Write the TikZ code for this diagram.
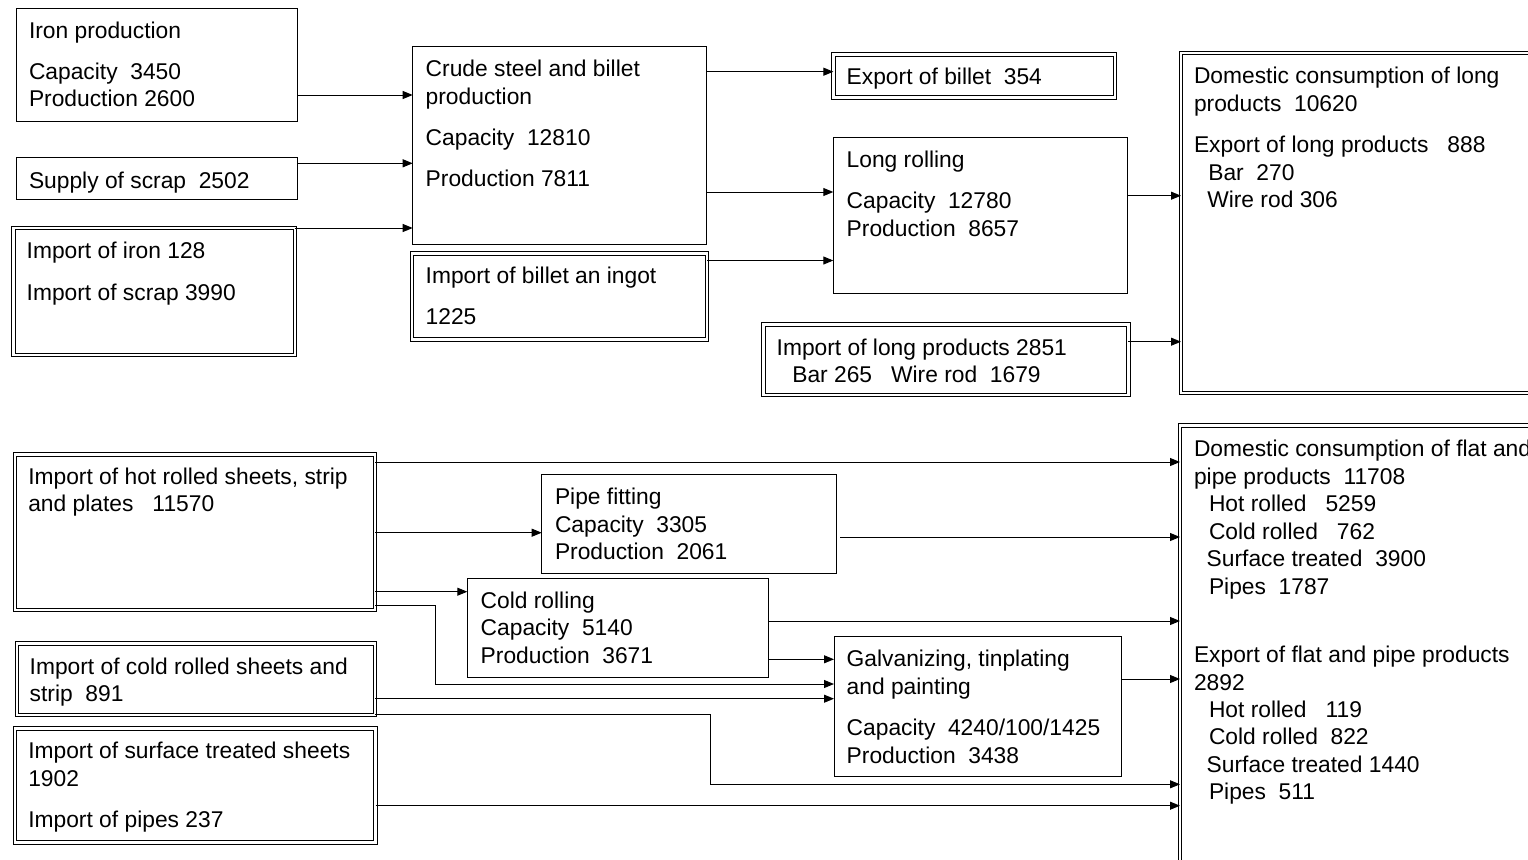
\documentclass[tikz,border=0pt]{standalone}
\usepackage{fontspec}
\setmainfont{Liberation Sans}
\usetikzlibrary{arrows.meta}
\newcommand\mkbox[6]{\node[#1, minimum width={#5-#3}, minimum height={#6-#4}] (#2) at (#3,#4) {};}
\newcommand\tline[4]{\node[txt] (#1) at (#2,#3) {#4};}
\begin{document}
\begin{tikzpicture}[x=1pt,y=-1pt,
  box/.style={draw, line width=1pt, inner sep=0pt, outer sep=0pt, anchor=north west},
  dbox/.style={box, double, double distance=2.4pt},
  txt/.style={anchor=base west, inner sep=0pt, outer sep=0pt, font=\fontsize{22.8}{27}\selectfont},
  arr/.style={line width=1pt, -{Triangle[length=10pt,width=8pt]}}]
\useasboundingbox (0,0) rectangle (1528,859);
\clip (0,0) rectangle (1528,859);
% boxes
\mkbox{box}{iron}{16}{8.3}{297.7}{121.7}
\mkbox{box}{scrap}{16}{157.3}{297.7}{199.3}
\mkbox{dbox}{impiron}{13.3}{228}{294.8}{354.7}
\mkbox{box}{crude}{412.7}{46.7}{706}{244}
\mkbox{dbox}{impbillet}{411.7}{253.4}{707}{339.3}
\mkbox{dbox}{export}{833.4}{54.4}{1115}{97.3}
\mkbox{box}{longroll}{833.3}{137.7}{1127.7}{293.3}
\mkbox{dbox}{implong}{763.4}{324.4}{1128.3}{395}
\mkbox{dbox}{domlong}{1181}{53.3}{1545}{393}
\mkbox{dbox}{imphot}{15}{454.4}{375}{610}
\mkbox{dbox}{impcold}{16.7}{643.4}{375}{715}
\mkbox{dbox}{impsurf}{15}{728.4}{375.6}{842.6}
\mkbox{box}{pipe}{541.7}{474.3}{836}{573.3}
\mkbox{box}{coldroll}{467.3}{578.3}{768.3}{677.3}
\mkbox{box}{galv}{834}{636.7}{1121.7}{776}
\mkbox{dbox}{domflat}{1180}{425.5}{1545}{880}
% texts
\tline{t-iron-1}{29}{38.5}{Iron production}
\tline{t-iron-2}{29}{79.5}{Capacity~ 3450}
\tline{t-iron-3}{29}{106.5}{Production 2600}
\tline{t-scrap}{29}{188.5}{Supply of scrap~ 2502}
\tline{t-impiron-1}{26.7}{258.5}{Import of iron 128}
\tline{t-impiron-2}{26.7}{300}{Import of scrap 3990}
\tline{t-crude-1}{425.7}{76.5}{Crude steel and billet}
\tline{t-crude-2}{425.7}{104.5}{production}
\tline{t-crude-3}{425.7}{145.5}{Capacity~ 12810}
\tline{t-crude-4}{425.7}{186.5}{Production 7811}
\tline{t-impbillet-1}{425.7}{283}{Import of billet an ingot}
\tline{t-impbillet-2}{425.7}{324}{1225}
\tline{t-export}{846.7}{84.3}{Export of billet~ 354}
\tline{t-long-1}{846.7}{167.7}{Long rolling}
\tline{t-long-2}{846.7}{208.5}{Capacity~ 12780}
\tline{t-long-3}{846.7}{236}{Production~ 8657}
\tline{t-implong-1}{776.7}{355.3}{Import of long products 2851}
\tline{t-implong-2}{792.3}{382.7}{Bar 265~~ Wire rod~ 1679}
\tline{t-domlong-1}{1194}{84}{Domestic consumption of long}
\tline{t-domlong-2}{1194}{111}{products~ 10620}
\tline{t-domlong-3}{1194}{152.5}{Export of long products~~ 888}
\tline{t-domlong-4}{1208.3}{180}{Bar~ 270}
\tline{t-domlong-5}{1207.3}{207.5}{Wire rod 306}
\tline{t-imphot-1}{28.3}{484.5}{Import of hot rolled sheets, strip}
\tline{t-imphot-2}{28.3}{511.5}{and plates~~ 11570}
\tline{t-impcold-1}{29.7}{674.5}{Import of cold rolled sheets and}
\tline{t-impcold-2}{29.7}{701.5}{strip~ 891}
\tline{t-impsurf-1}{28.3}{758.5}{Import of surface treated sheets}
\tline{t-impsurf-2}{28.3}{786.5}{1902}
\tline{t-impsurf-3}{28.3}{827.5}{Import of pipes 237}
\tline{t-pipe-1}{555}{504.5}{Pipe fitting}
\tline{t-pipe-2}{555}{532.5}{Capacity~ 3305}
\tline{t-pipe-3}{555}{559.5}{Production~ 2061}
\tline{t-cold-1}{480.7}{608.5}{Cold rolling}
\tline{t-cold-2}{480.7}{635.5}{Capacity~ 5140}
\tline{t-cold-3}{480.7}{663.5}{Production~ 3671}
\tline{t-galv-1}{846.7}{666.5}{Galvanizing, tinplating}
\tline{t-galv-2}{846.7}{694.5}{and painting}
\tline{t-galv-3}{846.7}{735.5}{Capacity~ 4240/100/1425}
\tline{t-galv-4}{846.7}{763.5}{Production~ 3438}
\tline{t-domflat-1}{1194}{456.5}{Domestic consumption of flat and}
\tline{t-domflat-2}{1194}{484.5}{pipe products~ 11708}
\tline{t-domflat-3}{1209}{511.5}{Hot rolled~~ 5259}
\tline{t-domflat-4}{1209}{539.5}{Cold rolled~~ 762}
\tline{t-domflat-5}{1206.7}{566.5}{Surface treated~ 3900}
\tline{t-domflat-6}{1209}{594.5}{Pipes~ 1787}
\tline{t-domflat-7}{1194}{662.5}{Export of flat and pipe products}
\tline{t-domflat-8}{1194}{690.5}{2892}
\tline{t-domflat-9}{1209}{717.5}{Hot rolled~~ 119}
\tline{t-domflat-10}{1209}{744.5}{Cold rolled~ 822}
\tline{t-domflat-11}{1206.7}{772.5}{Surface treated 1440}
\tline{t-domflat-12}{1209}{799.5}{Pipes~ 511}
% connectors, top part
\draw[arr] (iron.east |- 0,95) -- (crude.west |- 0,95);
\draw[arr] (scrap.east |- 0,163.3) -- (crude.west |- 0,163.3);
\draw[arr] (impiron.east |- 0,228) -- (crude.west |- 0,228);
\draw[arr] (crude.east |- 0,71.7) -- (export.west |- 0,71.7);
\draw[arr] (crude.east |- 0,192) -- (longroll.west |- 0,192);
\draw[arr] (impbillet.east |- 0,260.5) -- (longroll.west |- 0,260.5);
\draw[arr] (longroll.east |- 0,195.7) -- (domlong.west |- 0,195.7);
\draw[arr] (implong.east |- 0,341.7) -- (domlong.west |- 0,341.7);
% connectors, bottom part
\draw[arr] (imphot.east |- 0,462) -- (domflat.west |- 0,462);
\draw[arr] (imphot.east |- 0,532.7) -- (pipe.west |- 0,532.7);
\draw[arr] (imphot.east |- 0,591.7) -- (coldroll.west |- 0,591.7);
\draw[arr] (imphot.east |- 0,605.7) -| (435,684) -- (galv.west |- 0,684);
\draw[arr, shorten <=4pt] (pipe.east |- 0,537) -- (domflat.west |- 0,537);
\draw[arr] (coldroll.east |- 0,621) -- (domflat.west |- 0,621);
\draw[arr] (coldroll.east |- 0,659.3) -- (galv.west |- 0,659.3);
\draw[arr] (galv.east |- 0,679) -- (domflat.west |- 0,679);
\draw[arr] (impcold.east |- 0,698.7) -- (galv.west |- 0,698.7);
\draw[arr] (impcold.east |- 0,714.3) -| (710,784.3) -- (domflat.west |- 0,784.3);
\draw[arr] (impsurf.east |- 0,805.7) -- (domflat.west |- 0,805.7);
\end{tikzpicture}
\end{document}
